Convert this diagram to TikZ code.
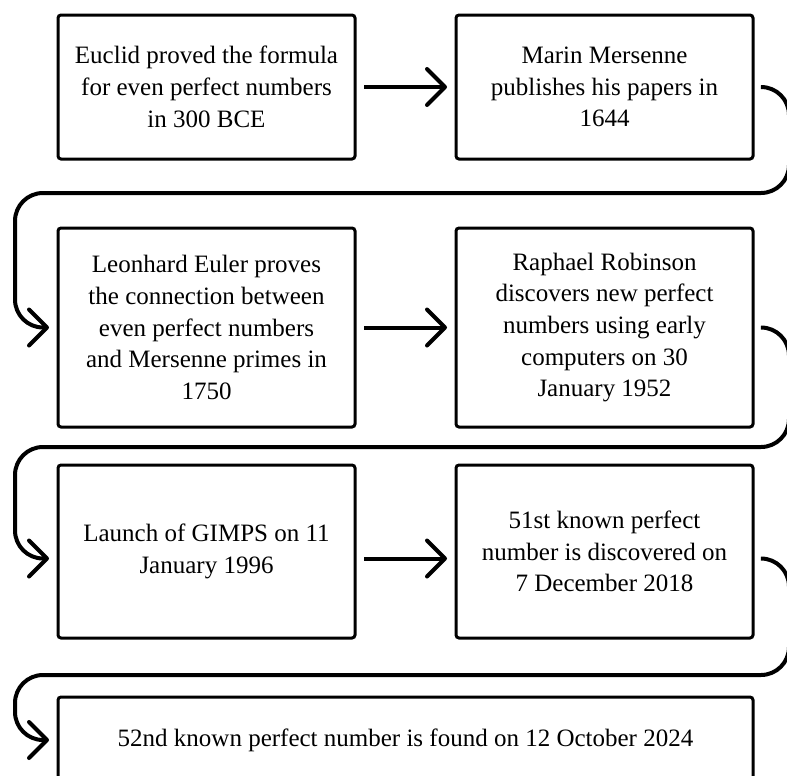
\documentclass[tikz,border=0pt]{standalone}
\usepackage{fontspec}
\setmainfont{Liberation Serif}
\usetikzlibrary{arrows.meta, positioning}

\begin{document}
\begin{tikzpicture}[
  x=0.5pt, y=-0.5pt,
  font=\fontsize{12.5pt}{15.85pt}\selectfont,
  evt/.style={draw=black, line width=1.5pt, rounded corners=1.5pt, align=center,
           minimum width=148.5pt, inner sep=0pt, outer sep=0pt},
  arr/.style={-{Straight Barb[length=9pt, width=18pt, round]}, line width=2pt,
           shorten <=4.5pt, shorten >=4.5pt},
  ret/.style={arr, rounded corners=14pt}
]
  \useasboundingbox (0,0) rectangle (787,776);

  \node[evt, minimum height=72pt, anchor=north west] (b1) at (58,15)
    {Euclid proved the formula\\for even perfect numbers\\in 300 BCE};
  \node[evt, minimum height=72pt] (b2) [right=50.5pt of b1]
    {Marin Mersenne\\publishes his papers in\\1644};

  \node[evt, minimum height=99.5pt] (b3) [below=34.5pt of b1]
    {Leonhard Euler proves\\the connection between\\even perfect numbers\\and Mersenne primes in\\1750};
  \node[evt, minimum height=99.5pt] (b4) [right=50.5pt of b3]
    {Raphael Robinson\\discovers new perfect\\numbers using early\\computers on 30\\January 1952};

  \node[evt, minimum height=86.5pt] (b5) [below=19pt of b3]
    {Launch of GIMPS on 11\\January 1996};
  \node[evt, minimum height=86.5pt] (b6) [right=50.5pt of b5]
    {51st known perfect\\number is discovered on\\7 December 2018};

  \node[evt, minimum height=43pt, minimum width=347.5pt] (b7)
    [below=29.5pt of b5.south west, anchor=north west]
    {52nd known perfect number is found on 12 October 2024};

  % left to right in each row
  \draw[arr] (b1.east) -- (b2.west);
  \draw[arr] (b3.east) -- (b4.west);
  \draw[arr] ([yshift=-3.5pt]b5.east) -- ([yshift=-3.5pt]b6.west);

  % back to the next row
  \draw[ret] (b2.east) -| (789,193) -- (15,193) |- (b3.west);
  \draw[ret] (b4.east) -| (789,447) -- (15,447) |- ([yshift=-3.5pt]b5.west);
  \draw[ret] ([yshift=-3.5pt]b6.east) -| (789,675) -- (15,675) |- (b7.west);
\end{tikzpicture}
\end{document}
